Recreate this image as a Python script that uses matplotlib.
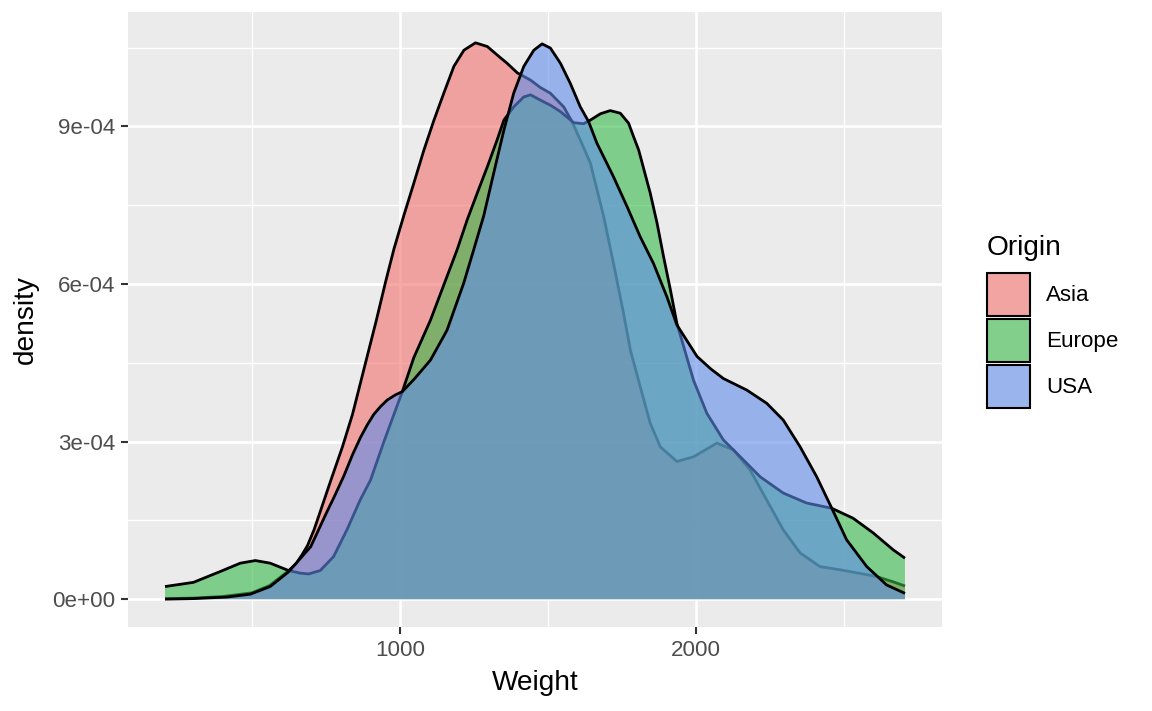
import matplotlib
matplotlib.use("Agg")
import matplotlib.pyplot as plt
from matplotlib.patches import Patch
from matplotlib.legend_handler import HandlerTuple
import numpy as np

plt.rcParams['font.family'] = ['Liberation Sans', 'DejaVu Sans']

# ---- data ----
categories = ["Asia", "Europe", "USA"]
colors = ["#F2716D", "#37B949", "#5F8CEB"]

asia_x = [207, 300, 400, 500, 560, 624, 650, 670, 688, 710, 727, 766, 806, 840, 884, 920,
          952, 980, 1013, 1047, 1081, 1115, 1148, 1182, 1216, 1255, 1295, 1328, 1362, 1396,
          1441, 1474, 1508, 1553, 1581, 1609, 1643, 1688, 1721, 1755, 1778, 1811, 1845, 1879,
          1935, 1991, 2070, 2126, 2182, 2238, 2294, 2351, 2418, 2485, 2553, 2609, 2665, 2705]
asia_y = [0.01, 0.02, 0.05, 0.12, 0.26, 0.54, 0.68, 0.85, 1.02, 1.32, 1.6, 2.25, 2.9, 3.52, 4.5, 5.3,
          6.05, 6.67, 7.3, 7.92, 8.55, 9.12, 9.63, 10.14, 10.45, 10.59, 10.52, 10.36, 10.2, 10.02,
          9.88, 9.74, 9.63, 9.37, 9.09, 8.74, 8.3, 7.28, 6.39, 5.44, 4.74, 4.05, 3.35, 2.9,
          2.62, 2.71, 2.97, 2.84, 2.46, 1.89, 1.32, 0.88, 0.62, 0.56, 0.49, 0.43, 0.33, 0.25]

europe_x = [207, 303, 393, 461, 512, 562, 624, 664, 692, 731, 776, 821, 866, 901, 946,
            1008, 1047, 1103, 1193, 1227, 1261, 1295, 1328, 1351, 1384, 1418, 1441, 1474,
            1509, 1542, 1587, 1620, 1643, 1677, 1710, 1744, 1772, 1789, 1806, 1845, 1868,
            1890, 1913, 1935, 1991, 2036, 2092, 2149, 2216, 2294, 2373, 2458, 2530, 2598,
            2665, 2705]
europe_y = [0.24, 0.32, 0.525, 0.685, 0.735, 0.685, 0.545, 0.495, 0.48, 0.545, 0.81, 1.32, 1.89, 2.27, 3.0,
            3.95, 4.6, 5.31, 6.65, 7.22, 7.73, 8.23, 8.74, 9.12, 9.37, 9.56, 9.6, 9.5,
            9.4, 9.28, 9.07, 9.05, 9.12, 9.24, 9.30, 9.25, 9.06, 8.80, 8.55, 7.73, 7.16,
            6.52, 5.89, 5.25, 4.17, 3.54, 3.03, 2.71, 2.33, 2.02, 1.83, 1.73, 1.54, 1.26,
            0.94, 0.78]

usa_x = [207, 300, 416, 495, 562, 624, 699, 750, 780, 811, 840, 867, 890, 912, 935, 957,
         985, 1008, 1050, 1103, 1159, 1215, 1249, 1283, 1317, 1351, 1384, 1418, 1452, 1480,
         1508, 1542, 1575, 1609, 1637, 1665, 1721, 1767, 1811, 1856, 1901, 1935, 1969, 2003,
         2050, 2092, 2171, 2238, 2294, 2351, 2407, 2458, 2508, 2576, 2643, 2705]
usa_y = [0.0, 0.01, 0.04, 0.095, 0.24, 0.52, 1.0, 1.62, 1.97, 2.35, 2.75, 3.08, 3.32, 3.52, 3.67, 3.79,
         3.89, 3.95, 4.2, 4.55, 5.12, 6.01, 6.65, 7.3, 8.12, 8.93, 9.63, 10.14, 10.45, 10.57,
         10.49, 10.2, 9.82, 9.37, 9.09, 8.68, 8.04, 7.47, 6.9, 6.39, 5.76, 5.22, 4.92, 4.62,
         4.38, 4.2, 3.98, 3.73, 3.41, 2.9, 2.33, 1.73, 1.13, 0.62, 0.27, 0.11]

y_scale = 1e-4  # values above are in units of 1e-4

x_major = [1000, 2000]
x_minor = [500, 1500, 2500]
y_major = [0, 3e-4, 6e-4, 9e-4]
y_major_labels = ["0e+00", "3e-04", "6e-04", "9e-04"]
y_minor = [1.5e-4, 4.5e-4, 7.5e-4, 10.5e-4]

series = [(asia_x, asia_y), (europe_x, europe_y), (usa_x, usa_y)]

# ---- figure ----
W, H = 1152, 711
fig = plt.figure(figsize=(W / 100, H / 100), dpi=100)
ax = fig.add_axes([128 / W, 1 - 627 / H, (942 - 128) / W, (627 - 12) / H])
ax.set_facecolor("#EBEBEB")
for s in ax.spines.values():
    s.set_visible(False)

z = 3
for (xs, ys), col in zip(series, colors):
    xs = np.asarray(xs, float)
    ys = np.asarray(ys, float) * y_scale
    ax.fill_between(xs, 0, ys, facecolor=col, alpha=0.6, linewidth=0, zorder=z)
    ax.plot(xs, ys, color="black", linewidth=2.0, zorder=z + 0.5,
            solid_joinstyle="round", solid_capstyle="butt")
    z += 1

ax.set_xlim(82, 2830)
ax.set_ylim(-5.3e-5, 1.1177e-3)

ax.set_xticks(x_major)
ax.set_xticks(x_minor, minor=True)
ax.set_yticks(y_major)
ax.set_yticklabels(y_major_labels)
ax.set_yticks(y_minor, minor=True)

ax.grid(which="major", color="white", linewidth=1.9)
ax.grid(which="minor", color="white", linewidth=0.95)
ax.set_axisbelow(True)

ax.tick_params(which="major", length=5.0, width=1.5, color="#333333",
               labelsize=16.1, labelcolor="#4D4D4D", pad=4)
ax.tick_params(which="minor", length=0)

ax.set_xlabel("Weight", fontsize=20.2, color="black", labelpad=7)
ax.set_ylabel("density", fontsize=20.2, color="black", labelpad=10)

# ---- legend ----
handles = []
for col in colors:
    bg = Patch(facecolor="#F2F2F2", edgecolor="none")
    fg = Patch(facecolor=col, alpha=0.6, edgecolor="none")
    edge = Patch(facecolor="none", edgecolor="black", linewidth=1.5)
    handles.append((bg, fg, edge))

fig.text(987 / W, 1 - 255 / H, "Origin", fontsize=20.2, color="black",
         ha="left", va="baseline")
leg = fig.legend(handles, categories,
                 handler_map={tuple: HandlerTuple(ndivide=1, pad=0)},
                 loc="upper left", bbox_to_anchor=(987 / W, 1 - 273 / H),
                 frameon=False, fontsize=16.1,
                 handlelength=1.94, handleheight=2.6, labelspacing=0.12,
                 handletextpad=0.71, borderpad=0, borderaxespad=0)

fig.savefig("out.png", dpi=100)
